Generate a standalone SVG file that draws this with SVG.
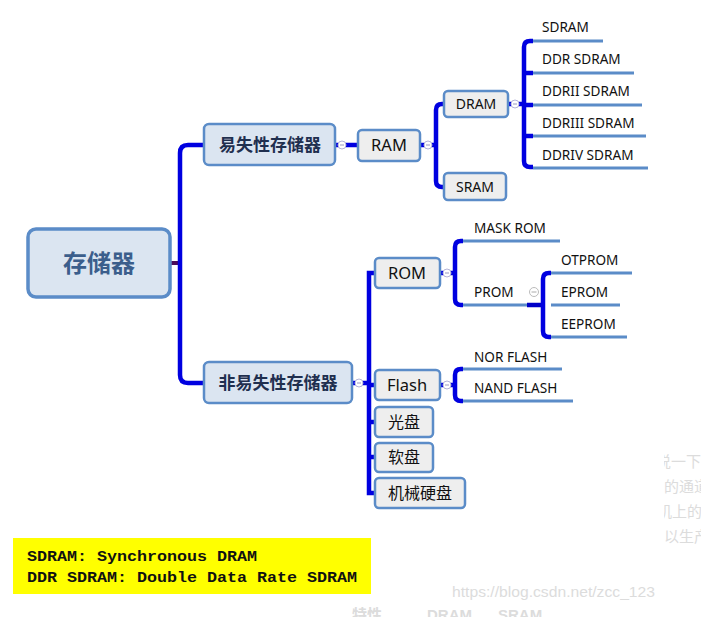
<svg xmlns="http://www.w3.org/2000/svg" width="701" height="617" viewBox="0 0 701 617">
<style>
.t{font-family:"Noto Sans","Noto Sans CJK SC",sans-serif;fill:#111;}
.lt{font-size:13.6px;}
.box{fill:#eeeeee;stroke:#5b8cc8;stroke-width:2.5;}
.box1{fill:#dbe5f1;stroke:#5b8cc8;stroke-width:2.5;}
.bl{fill:none;stroke:#0000e0;stroke-width:4.5;stroke-linecap:butt;}
.lf{fill:none;stroke:#5b8cc8;stroke-width:3;}
.cc{fill:#fff;stroke:#b4b4d8;stroke-width:1;}
.cm{stroke:#9898c0;stroke-width:1;}
.wm{font-family:"Liberation Sans","Noto Sans CJK SC",sans-serif;fill:#dcdcdc;}
</style>
<defs>
<clipPath id="rc"><rect x="664" y="440" width="37" height="120"/></clipPath>
</defs>
<rect width="701" height="617" fill="#fff"/>

<g id="connectors">
  <line x1="170" y1="263" x2="181" y2="263" stroke="#4a0a5a" stroke-width="4"/>
  <path class="bl" d="M204,145 H188 Q180,145 180,153 V375 Q180,383 188,383 H204"/>
  <line class="bl" x1="335" y1="145" x2="358" y2="145"/>
  <line class="bl" x1="420" y1="145" x2="436" y2="145"/>
  <path class="bl" d="M444,104 H442 Q436,104 436,110 V181 Q436,187 442,187 H444"/>
  <line class="bl" x1="508" y1="104" x2="524" y2="104"/>
  <path class="bl" d="M533,41 H530 Q524,41 524,47 V161 Q524,167 530,167 H533"/>
  <line class="bl" x1="524" y1="73" x2="533" y2="73"/>
  <line class="bl" x1="524" y1="105" x2="533" y2="105"/>
  <line class="bl" x1="524" y1="136" x2="533" y2="136"/>
  <line class="lf" x1="533" y1="41" x2="603" y2="41"/>
  <line class="lf" x1="533" y1="73" x2="634" y2="73"/>
  <line class="lf" x1="533" y1="105" x2="642" y2="105"/>
  <line class="lf" x1="533" y1="136" x2="646" y2="136"/>
  <line class="lf" x1="533" y1="168" x2="648" y2="168"/>

  <line class="bl" x1="352" y1="383" x2="369" y2="383"/>
  <path class="bl" d="M375,273 H369 V493 H375"/>
  <line class="bl" x1="369" y1="385" x2="375" y2="385"/>
  <line class="bl" x1="369" y1="422" x2="375" y2="422"/>
  <line class="bl" x1="369" y1="457" x2="375" y2="457"/>

  <line class="bl" x1="440" y1="273" x2="455" y2="273"/>
  <path class="bl" d="M463,241 H461 Q455,241 455,247 V299 Q455,305 461,305 H463"/>
  <line class="lf" x1="463" y1="241" x2="560" y2="241"/>
  <line class="lf" x1="463" y1="305" x2="528" y2="305"/>
  <line x1="527" y1="305" x2="543" y2="305" stroke="#0000c8" stroke-width="4.5"/>
  <path class="bl" d="M551,273 H549 Q543,273 543,279 V331 Q543,337 549,337 H551"/>
  <line class="lf" x1="551" y1="273" x2="632" y2="273"/>
  <line class="lf" x1="551" y1="305" x2="620" y2="305"/>
  <line class="lf" x1="551" y1="337" x2="627" y2="337"/>

  <line class="bl" x1="440" y1="385" x2="455" y2="385"/>
  <path class="bl" d="M463,369 H461 Q455,369 455,375 V395 Q455,401 461,401 H463"/>
  <line class="lf" x1="463" y1="369" x2="562" y2="369"/>
  <line class="lf" x1="463" y1="401" x2="573" y2="401"/>

  <g>
    <circle class="cc" cx="342" cy="145" r="4"/><line class="cm" x1="340" y1="145" x2="344" y2="145"/>
    <circle class="cc" cx="428" cy="145" r="4"/><line class="cm" x1="426" y1="145" x2="430" y2="145"/>
    <circle class="cc" cx="515" cy="104" r="4"/><line class="cm" x1="513" y1="104" x2="517" y2="104"/>
    <circle class="cc" cx="359" cy="383" r="4"/><line class="cm" x1="357" y1="383" x2="361" y2="383"/>
    <circle class="cc" cx="447" cy="273" r="4"/><line class="cm" x1="445" y1="273" x2="449" y2="273"/>
    <circle class="cc" cx="447" cy="385" r="4"/><line class="cm" x1="445" y1="385" x2="449" y2="385"/>
    <circle cx="534" cy="292" r="4.5" fill="#fff" stroke="#bbb" stroke-width="1"/><line x1="531.5" y1="292" x2="536.5" y2="292" stroke="#aaa" stroke-width="1"/>
  </g>
</g>

<g id="root">
  <rect x="28" y="229" width="142" height="68" rx="8" fill="#dbe5f1" stroke="#5b8cc8" stroke-width="3.5"/>
  <text x="99" y="272" text-anchor="middle" font-family="Noto Sans CJK SC, sans-serif" font-weight="bold" font-size="24" fill="#3b5e8c">存储器</text>
</g>
<g id="volatile">
  <rect class="box1" x="204" y="124" width="131" height="41" rx="5"/>
  <text x="270" y="151" text-anchor="middle" font-family="Noto Sans CJK SC, sans-serif" font-weight="bold" font-size="17" fill="#1f2f4f">易失性存储器</text>
</g>
<g id="nonvolatile">
  <rect class="box1" x="204" y="362" width="148" height="41" rx="5"/>
  <text x="278" y="389" text-anchor="middle" font-family="Noto Sans CJK SC, sans-serif" font-weight="bold" font-size="17" fill="#1f2f4f">非易失性存储器</text>
</g>
<g id="ram">
  <rect class="box" x="358" y="130" width="62" height="31" rx="4"/>
  <text class="t" x="389" y="151" text-anchor="middle" font-size="16.5">RAM</text>
</g>
<g id="dram">
  <rect class="box" x="444" y="91" width="64" height="26" rx="4"/>
  <text class="t" x="476" y="109" text-anchor="middle" font-size="14">DRAM</text>
</g>
<g id="sram">
  <rect class="box" x="444" y="173" width="62" height="27" rx="4"/>
  <text class="t" x="475" y="192" text-anchor="middle" font-size="14">SRAM</text>
</g>
<g id="sdram"><text class="t lt" x="542" y="32">SDRAM</text></g>
<g id="ddrsdram"><text class="t lt" x="542" y="64">DDR SDRAM</text></g>
<g id="ddr2"><text class="t lt" x="542" y="96">DDRII SDRAM</text></g>
<g id="ddr3"><text class="t lt" x="542" y="128">DDRIII SDRAM</text></g>
<g id="ddr4"><text class="t lt" x="542" y="160">DDRIV SDRAM</text></g>

<g id="rom">
  <rect class="box" x="375" y="258" width="65" height="30" rx="4"/>
  <text class="t" x="407" y="279" text-anchor="middle" font-size="16.5">ROM</text>
</g>
<g id="maskrom"><text class="t lt" x="474" y="233">MASK ROM</text></g>
<g id="prom"><text class="t lt" x="474" y="297">PROM</text></g>
<g id="otprom"><text class="t lt" x="561" y="265">OTPROM</text></g>
<g id="eprom"><text class="t lt" x="561" y="297">EPROM</text></g>
<g id="eeprom"><text class="t lt" x="561" y="329">EEPROM</text></g>

<g id="flash">
  <rect class="box" x="375" y="370" width="65" height="30" rx="4"/>
  <text class="t" x="407" y="391" text-anchor="middle" font-size="16.5">Flash</text>
</g>
<g id="norflash"><text class="t lt" x="474" y="362">NOR FLASH</text></g>
<g id="nandflash"><text class="t lt" x="474" y="393">NAND FLASH</text></g>

<g id="guangpan">
  <rect class="box" x="375" y="407" width="58" height="30" rx="4"/>
  <text class="t" x="404" y="428" text-anchor="middle" font-size="16">光盘</text>
</g>
<g id="ruanpan">
  <rect class="box" x="375" y="443" width="58" height="29" rx="4"/>
  <text class="t" x="404" y="463" text-anchor="middle" font-size="16">软盘</text>
</g>
<g id="hdd">
  <rect class="box" x="375" y="478" width="90" height="30" rx="4"/>
  <text class="t" x="420" y="499" text-anchor="middle" font-size="16">机械硬盘</text>
</g>

<g id="note">
  <rect x="13" y="538" width="358" height="56" fill="#ffff00"/>
  <text x="27" y="561" font-family="Liberation Mono, monospace" font-weight="bold" font-size="15" textLength="230" lengthAdjust="spacingAndGlyphs" fill="#111">SDRAM: Synchronous DRAM</text>
  <text x="27" y="582" font-family="Liberation Mono, monospace" font-weight="bold" font-size="15" textLength="330" lengthAdjust="spacingAndGlyphs" fill="#111">DDR SDRAM: Double Data Rate SDRAM</text>
</g>

<g id="background">
  <text class="wm" x="452" y="597" font-size="15" textLength="203" lengthAdjust="spacingAndGlyphs">https://blog.csdn.net/zcc_123</text>
  <text class="wm" x="352" y="620" font-size="15" font-weight="bold" fill="#ccc">特性</text>
  <text class="wm" x="427" y="620" font-size="15" font-weight="bold" fill="#ccc">DRAM</text>
  <text class="wm" x="498" y="620" font-size="15" font-weight="bold" fill="#ccc">SRAM</text>
  <g clip-path="url(#rc)">
    <text class="wm" x="656" y="467" font-size="15" fill="#d0d0d0">说一下</text>
    <text class="wm" x="664" y="492" font-size="15" fill="#d0d0d0">的通道</text>
    <text class="wm" x="657" y="517" font-size="15" fill="#d0d0d0">机上的</text>
    <text class="wm" x="664" y="542" font-size="15" fill="#d0d0d0">以生产</text>
  </g>
</g>
</svg>
